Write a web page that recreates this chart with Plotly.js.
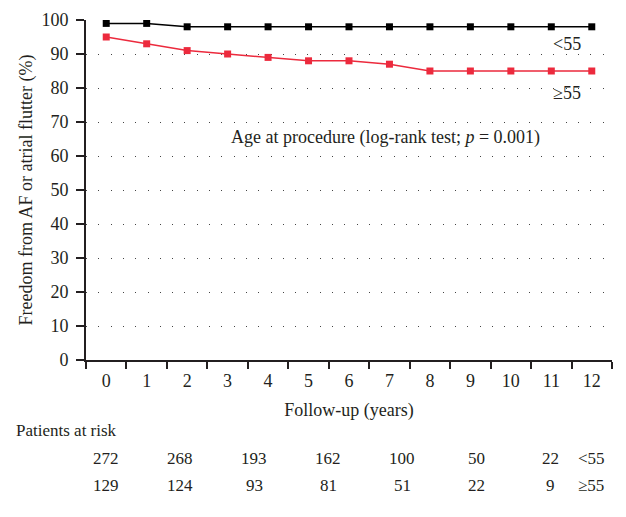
<!DOCTYPE html>
<html>
<head>
<meta charset="utf-8">
<script src="https://cdn.plot.ly/plotly-3.0.1.min.js"></script>
<style>html,body{margin:0;padding:0;background:#fff;}#chart{width:626px;height:517px;}</style>
</head>
<body>
<div id="chart"></div>
<script>
const years = ["0","1","2","3","4","5","6","7","8","9","10","11","12"];
const under55 = [99,99,98,98,98,98,98,98,98,98,98,98,98];
const over55 = [95,93,91,90,89,88,88,87,85,85,85,85,85];
const riskUnder55 = [272,268,193,162,100,50,22];
const riskOver55 = [129,124,93,81,51,22,9];
const groupLabels = ["<55","≥55"];

const FONT = "Liberation Serif, Times New Roman, serif";
const TXT = "#231f20";
const red = "#ec2a3d";

const traces = [
  {x: years, y: under55, type: "scatter", mode: "lines+markers",
   line: {color: "#000", width: 1.5}, marker: {symbol: "square", size: 7, color: "#000"}, name: groupLabels[0]},
  {x: years, y: over55, type: "scatter", mode: "lines+markers",
   line: {color: red, width: 1.5}, marker: {symbol: "square", size: 7, color: red}, name: groupLabels[1]}
];

const W = 626, H = 517, ml = 86, mr = 14, mt = 20, mb = 157;
const pw = W - ml - mr, ph = H - mt - mb;
const px2paperX = px => (px - ml) / pw;
const px2paperY = py => (H - mb - py) / ph;

const annotations = [
  {x: 11.4, y: 93, xref: "x", yref: "y", text: groupLabels[0], showarrow: false, font: {family: FONT, size: 18, color: TXT}},
  {x: 11.4, y: 78.5, xref: "x", yref: "y", text: groupLabels[1], showarrow: false, font: {family: FONT, size: 18, color: TXT}},
  {x: 6.9, y: 65.5, xref: "x", yref: "y", text: "Age at procedure (log-rank test; <i>p</i> = 0.001)", showarrow: false, font: {family: FONT, size: 18, color: TXT}},
  {x: px2paperX(14), xref: "paper", y: px2paperY(442), yref: "paper", text: "Patients at risk", showarrow: false, xanchor: "left", font: {family: FONT, size: 17, color: TXT}}
];

// at-risk table: columns evenly spaced in the table row
const colStart = 106, colStep = 74;
riskUnder55.forEach((v, i) => {
  const cx = px2paperX(colStart + colStep * i);
  annotations.push({x: cx, xref: "paper", y: px2paperY(470), yref: "paper", text: String(v), showarrow: false,
    xanchor: "center", font: {family: FONT, size: 17, color: TXT}});
  annotations.push({x: cx, xref: "paper", y: px2paperY(497), yref: "paper", text: String(riskOver55[i]), showarrow: false,
    xanchor: "center", font: {family: FONT, size: 17, color: TXT}});
});
annotations.push({x: px2paperX(576), xref: "paper", y: px2paperY(470), yref: "paper", text: groupLabels[0], showarrow: false, xanchor: "left", font: {family: FONT, size: 17, color: TXT}});
annotations.push({x: px2paperX(576), xref: "paper", y: px2paperY(497), yref: "paper", text: groupLabels[1], showarrow: false, xanchor: "left", font: {family: FONT, size: 17, color: TXT}});

const layout = {
  width: W, height: H,
  margin: {l: ml, r: mr, t: mt, b: mb},
  paper_bgcolor: "#fff", plot_bgcolor: "#fff",
  showlegend: false,
  font: {family: FONT, size: 18, color: TXT},
  xaxis: {
    type: "category", categoryorder: "array", categoryarray: years,
    tickson: "boundaries", ticks: "outside", ticklen: 7, tickwidth: 2, tickcolor: TXT,
    ticklabelstandoff: 3,
    showline: true, linecolor: TXT, linewidth: 2, showgrid: false, zeroline: false,
    tickfont: {family: FONT, size: 18, color: TXT},
    title: {text: "Follow-up (years)", font: {family: FONT, size: 18, color: TXT}, standoff: 14},
    range: [-0.5, 12.5]
  },
  yaxis: {
    range: [0, 100], tickvals: [0,10,20,30,40,50,60,70,80,90,100],
    ticks: "outside", ticklen: 8, tickwidth: 2, tickcolor: TXT,
    ticklabelstandoff: 4,
    showline: true, linecolor: TXT, linewidth: 2, zeroline: false,
    showgrid: true, gridcolor: "#444", gridwidth: 1, griddash: "1px,11.3px",
    tickfont: {family: FONT, size: 18, color: TXT},
    title: {text: "Freedom from AF or atrial flutter (%)", font: {family: FONT, size: 18, color: TXT}, standoff: 4}
  },
  annotations: annotations
};

Plotly.newPlot("chart", traces, layout, {displayModeBar: false, staticPlot: true});
</script>
</body>
</html>
